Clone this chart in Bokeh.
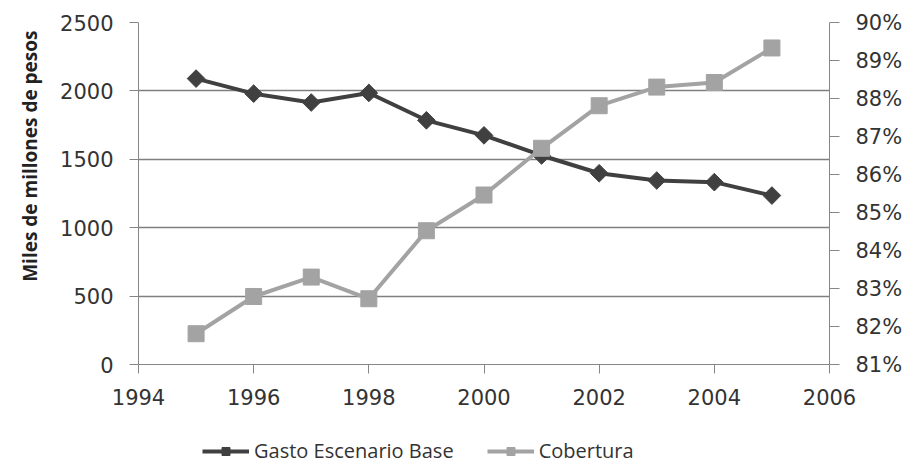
from bokeh.plotting import figure
from bokeh.layouts import column
from bokeh.models import (Range1d, LinearAxis, FixedTicker, PrintfTickFormatter,
                          Legend, LegendItem, Title)
from bokeh.embed import file_html
from bokeh.resources import INLINE

years = [1995, 1996, 1997, 1998, 1999, 2000, 2001, 2002, 2003, 2004, 2005]
gasto = [2090, 1980, 1915, 1985, 1785, 1675, 1528, 1398, 1345, 1333, 1235]
cobertura = [81.81, 82.79, 83.30, 82.73, 84.52, 85.46, 86.69, 87.81, 88.30, 88.42, 89.33]

x_ticks = [1994, 1996, 1998, 2000, 2002, 2004, 2006]
y_ticks = [0, 500, 1000, 1500, 2000, 2500]
pct_ticks = [81, 82, 83, 84, 85, 86, 87, 88, 89, 90]
series_names = ["Gasto Escenario Base", "Cobertura"]
y_title = "Miles de millones de pesos"

TICK_FONT = "DejaVu Sans"
TEXT_COLOR = "#333333"
AXIS_COLOR = "#868686"
DARK = "#404040"
LIGHT = "#a3a3a3"

p = figure(width=905, height=420, output_backend="svg", toolbar_location=None,
           x_range=Range1d(1994, 2006), y_range=Range1d(0, 2500),
           min_border_left=135, min_border_right=73, min_border_top=22,
           min_border_bottom=56)
p.outline_line_color = None
p.background_fill_color = "white"
p.border_fill_color = "white"

p.extra_y_ranges = {"pct": Range1d(81, 90)}

# axes
p.xaxis.ticker = FixedTicker(ticks=x_ticks)
p.yaxis.ticker = FixedTicker(ticks=y_ticks)
for ax in (p.xaxis[0], p.yaxis[0]):
    ax.axis_line_color = AXIS_COLOR
    ax.major_tick_line_color = AXIS_COLOR
    ax.minor_tick_line_color = None
    ax.major_tick_in = 0
    ax.major_tick_out = 9
    ax.major_label_text_font = TICK_FONT
    ax.major_label_text_font_size = "21px"
    ax.major_label_text_color = TEXT_COLOR
p.xaxis.major_label_standoff = 15
p.yaxis.major_label_standoff = 16

# y axis title (placed higher than the axis centre, as in the original)
p.add_layout(Title(text=y_title, align="right", offset=8, standoff=29,
                   text_font="Open Sans", text_font_style="bold",
                   text_font_size="19px", text_color="#222222"), "left")

right = LinearAxis(y_range_name="pct", ticker=FixedTicker(ticks=pct_ticks),
                   formatter=PrintfTickFormatter(format="%d%%"))
right.axis_line_color = AXIS_COLOR
right.major_tick_line_color = AXIS_COLOR
right.minor_tick_line_color = None
right.major_tick_in = 0
right.major_tick_out = 10
right.major_label_standoff = 16
right.major_label_text_font = TICK_FONT
right.major_label_text_font_size = "21px"
right.major_label_text_color = TEXT_COLOR
p.add_layout(right, "right")

# grid
p.xgrid.grid_line_color = None
p.ygrid.ticker = FixedTicker(ticks=[500, 1000, 1500, 2000, 2500])
p.ygrid.grid_line_color = "#7f7f7f"
p.ygrid.grid_line_width = 1.5

# series
p.line(years, gasto, line_color=DARK, line_width=4)
p.scatter(years, gasto, marker="square", angle=0.785398, size=12.5,
          fill_color=DARK, line_color=DARK)
p.line(years, cobertura, y_range_name="pct", line_color=LIGHT, line_width=4)
p.scatter(years, cobertura, y_range_name="pct", marker="square", size=16,
          fill_color=LIGHT, line_color=LIGHT)

# legend strip below the chart (its renderers lie outside its own view)
lg = figure(width=905, height=48, output_backend="svg", toolbar_location=None,
            x_range=Range1d(0, 1), y_range=Range1d(0, 1),
            x_axis_type=None, y_axis_type=None,
            min_border_left=0, min_border_right=0, min_border_top=0,
            min_border_bottom=0)
lg.outline_line_color = None
lg.xgrid.grid_line_color = None
lg.ygrid.grid_line_color = None
a1 = lg.line(years, gasto, line_color=DARK, line_width=4)
b1 = lg.scatter(years, gasto, marker="square", angle=0.785398, size=8,
                fill_color=DARK, line_color=DARK)
a2 = lg.line(years, cobertura, line_color=LIGHT, line_width=4)
b2 = lg.scatter(years, cobertura, marker="square", size=11,
                fill_color=LIGHT, line_color=LIGHT)

legend = Legend(items=[LegendItem(label=series_names[0], renderers=[a1, b1]),
                       LegendItem(label=series_names[1], renderers=[a2, b2])],
                orientation="horizontal", location=(64, 4),
                glyph_width=47, glyph_height=20, label_standoff=5, spacing=33,
                padding=0, margin=0, border_line_color=None,
                background_fill_alpha=0,
                label_text_font="Open Sans", label_text_font_size="20px",
                label_text_color=TEXT_COLOR)
lg.add_layout(legend, "center")

layout = column(p, lg, spacing=0)
open("out.html", "w").write(file_html(layout, INLINE))
